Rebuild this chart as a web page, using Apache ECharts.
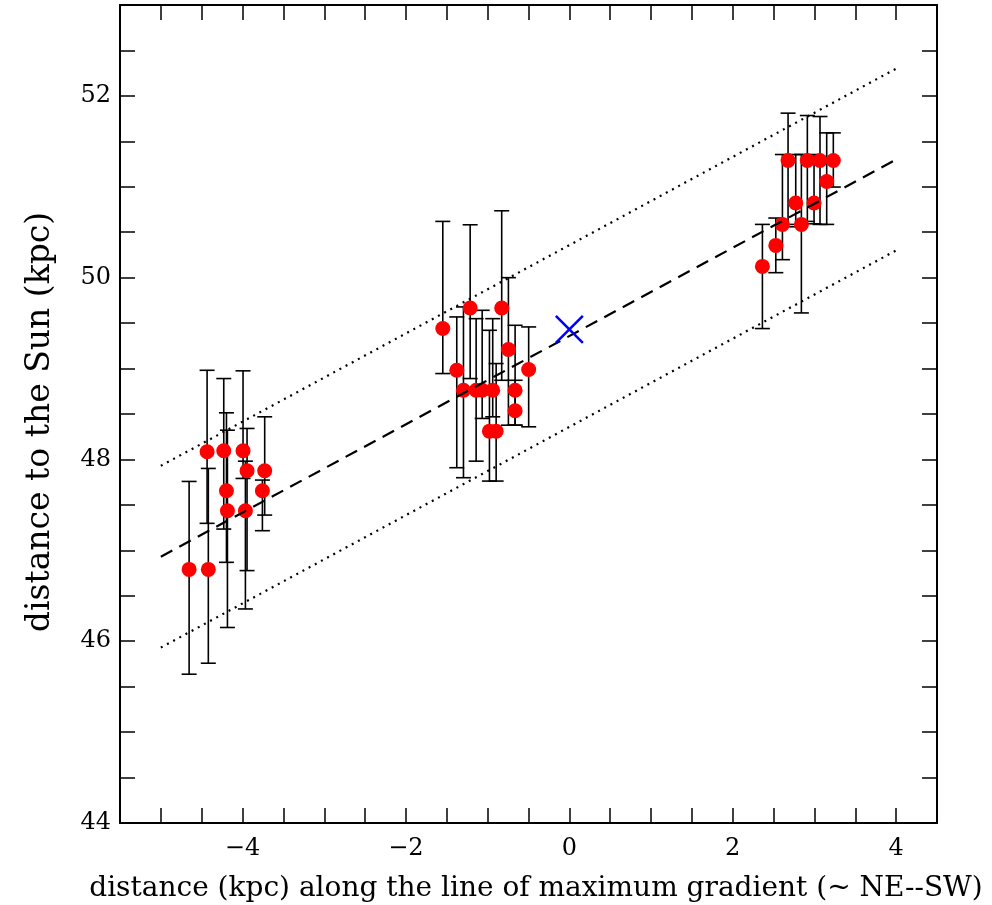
<!DOCTYPE html>
<html>
<head>
<meta charset="utf-8">
<script src="https://cdn.jsdelivr.net/npm/echarts@6/dist/echarts.min.js"></script>
<style>html,body{margin:0;padding:0;background:#fff;}#c{width:992px;height:905px;}</style>
</head>
<body>
<div id="c"></div>
<script>
// distance along gradient (kpc)
const xVals = [
  -4.654, -4.419, -4.434, -4.230, -4.197, -4.185, -3.994, -3.945, -3.965, -3.729, -3.757,
  -1.549, -1.378, -1.296, -1.214, -1.141, -1.067, -0.978, -0.938, -0.896, -0.828, -0.746, -0.664, -0.664, -0.498,
  2.363, 2.527, 2.608, 2.677, 2.771, 2.840, 2.913, 2.995, 3.068, 3.150, 3.231
];
// distance to the Sun (kpc)
const yVals = [
  46.79, 46.79, 48.085, 48.096, 47.656, 47.436, 48.096, 47.876, 47.436, 47.876, 47.656,
  49.44, 48.981, 48.762, 49.667, 48.762, 48.762, 48.311, 48.762, 48.311, 49.667, 49.209, 48.762, 48.535, 48.989,
  50.124, 50.355, 50.586, 51.289, 50.821, 50.586, 51.289, 50.821, 51.289, 51.058, 51.289
];
// upper end of error bar
const yHi = [
  47.758, 47.901, 48.981, 48.890, 48.513, 48.322, 48.975, 48.341, 47.981, 48.469, 47.773,
  50.619, 49.568, 49.678, 50.582, 49.549, 49.641, 49.421, 49.549, 49.055, 50.736, 50.000, 49.476, 48.871, 49.458,
  50.586, 50.656, 51.355, 51.810, 51.355, 51.355, 51.784, 51.355, 51.773, 51.593, 51.593
];
// lower end of error bar
const yLo = [
  45.637, 45.758, 47.297, 47.234, 46.868, 46.151, 47.791, 46.777, 46.355, 47.388, 47.216,
  48.945, 47.909, 47.799, 48.890, 47.981, 48.451, 47.762, 48.469, 47.762, 48.871, 48.377, 48.377, 48.377, 48.359,
  49.440, 50.055, 50.198, 50.586, 50.560, 49.612, 50.619, 50.593, 50.586, 50.586, 50.997
];
// fitted gradient line and +/- 1 kpc envelope
const fitX = [-5, 4];
const fitY = [46.93, 51.30];
const upperY = [47.93, 52.30];
const lowerY = [45.93, 50.30];
// centre marker
const centre = [0, 49.43];

const xTickLabels = [-4, -2, 0, 2, 4];
const yTickLabels = [44, 46, 48, 50, 52];

const FONT = 'DejaVu Serif';
const fmtNum = v => (v < 0 ? '\u2212' + Math.abs(v) : String(v));

const chart = echarts.init(document.getElementById('c'), null, {renderer: 'canvas'});

const tickStyle = {show: true, inside: true, length: 15, lineStyle: {color: '#000', width: 1.5}};
const lineStyleAxis = {show: true, onZero: false, lineStyle: {color: '#000', width: 2}};

const option = {
  animation: false,
  backgroundColor: '#fff',
  grid: {left: 120, top: 5, right: 55, bottom: 82, containLabel: false, outerBoundsMode: 'none'},
  xAxis: [{
    type: 'value', min: -5.5, max: 4.5, interval: 0.5, position: 'bottom',
    axisLine: lineStyleAxis, axisTick: tickStyle, splitLine: {show: false},
    axisLabel: {
      margin: 14, fontFamily: FONT, fontSize: 24, color: '#000',
      formatter: v => (xTickLabels.indexOf(v) >= 0 ? fmtNum(v) : '')
    },
    name: 'distance (kpc) along the line of maximum gradient (~ NE--SW)',
    nameLocation: 'middle', nameGap: 52,
    nameTextStyle: {fontFamily: FONT, fontSize: 28, color: '#000', padding: [0, 0, 0, 15]}
  }, {
    type: 'value', min: -5.5, max: 4.5, interval: 0.5, position: 'top',
    axisLine: lineStyleAxis, axisTick: tickStyle, splitLine: {show: false},
    axisLabel: {show: false}
  }],
  yAxis: [{
    type: 'value', min: 44, max: 53, interval: 0.5, position: 'left',
    axisLine: lineStyleAxis, axisTick: tickStyle, splitLine: {show: false},
    axisLabel: {
      margin: 9, fontFamily: FONT, fontSize: 24, color: '#000',
      formatter: v => (yTickLabels.indexOf(v) >= 0 ? fmtNum(v) : '')
    },
    name: 'distance to the Sun (kpc)',
    nameLocation: 'middle', nameGap: 63, nameRotate: 90,
    nameTextStyle: {fontFamily: FONT, fontSize: 33, color: '#000', padding: [0, 16, 0, 0]}
  }, {
    type: 'value', min: 44, max: 53, interval: 0.5, position: 'right',
    axisLine: lineStyleAxis, axisTick: tickStyle, splitLine: {show: false},
    axisLabel: {show: false}
  }],
  series: [
    {
      type: 'custom', name: 'errors', z: 2,
      xAxisIndex: 0, yAxisIndex: 0,
      data: xVals.map((x, i) => [x, yLo[i], yHi[i]]),
      encode: {x: 0, y: [1, 2]},
      renderItem: function (params, api) {
        const x = api.value(0);
        const pLo = api.coord([x, api.value(1)]);
        const pHi = api.coord([x, api.value(2)]);
        const w = 7.5;
        const st = {stroke: '#000', lineWidth: 1.6};
        return {type: 'group', children: [
          {type: 'line', shape: {x1: pLo[0], y1: pLo[1], x2: pHi[0], y2: pHi[1]}, style: st},
          {type: 'line', shape: {x1: pLo[0] - w, y1: pLo[1], x2: pLo[0] + w, y2: pLo[1]}, style: st},
          {type: 'line', shape: {x1: pHi[0] - w, y1: pHi[1], x2: pHi[0] + w, y2: pHi[1]}, style: st}
        ]};
      }
    },
    {
      type: 'scatter', name: 'points', z: 3,
      data: xVals.map((x, i) => [x, yVals[i]]),
      symbol: 'circle', symbolSize: 15,
      itemStyle: {color: '#ff0000', opacity: 1}
    },
    {
      type: 'line', name: 'fit', z: 4,
      data: fitX.map((x, i) => [x, fitY[i]]),
      symbol: 'none',
      lineStyle: {color: '#000', width: 2.2, type: [13, 8]}
    },
    {
      type: 'line', name: 'upper', z: 4,
      data: fitX.map((x, i) => [x, upperY[i]]),
      symbol: 'none',
      lineStyle: {color: '#000', width: 2.2, type: [2, 5]}
    },
    {
      type: 'line', name: 'lower', z: 4,
      data: fitX.map((x, i) => [x, lowerY[i]]),
      symbol: 'none',
      lineStyle: {color: '#000', width: 2.2, type: [2, 5]}
    },
    {
      type: 'custom', name: 'centre', z: 5,
      data: [centre],
      encode: {x: 0, y: 1},
      renderItem: function (params, api) {
        const p = api.coord([api.value(0), api.value(1)]);
        const r = 13.5;
        const st = {stroke: '#0000ff', lineWidth: 2.5};
        return {type: 'group', children: [
          {type: 'line', shape: {x1: p[0] - r, y1: p[1] - r, x2: p[0] + r, y2: p[1] + r}, style: st},
          {type: 'line', shape: {x1: p[0] - r, y1: p[1] + r, x2: p[0] + r, y2: p[1] - r}, style: st}
        ]};
      }
    }
  ]
};
chart.setOption(option);
</script>
</body>
</html>
